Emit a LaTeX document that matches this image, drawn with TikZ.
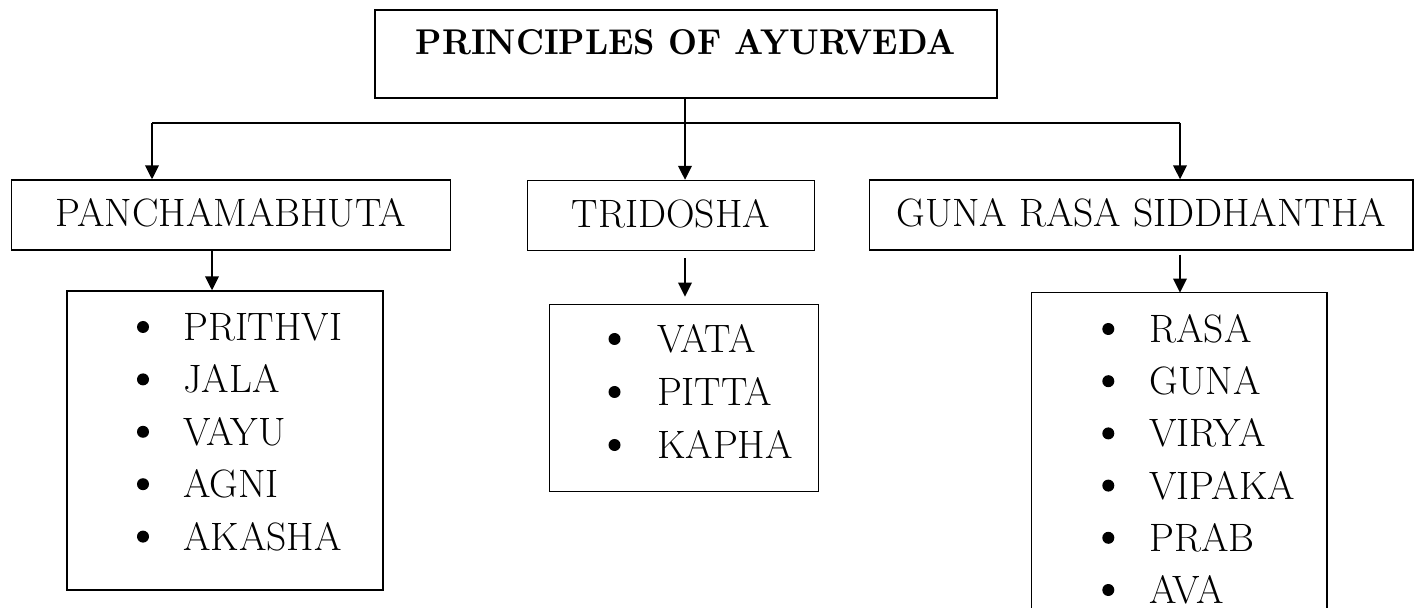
\documentclass[tikz,border=0pt]{standalone}
\usepackage{graphicx}
\usetikzlibrary{arrows.meta,calc}
\newcommand{\sqz}[1]{\scalebox{1.0}[1]{#1}}
\begin{document}
\begin{tikzpicture}[x=0.5pt,y=-0.5pt,
  box/.style={draw,line width=0.7pt,inner sep=0pt},
  head/.style={box,minimum height=35pt,text height=13.5pt,text depth=1.5pt,font=\fontsize{19.8}{24}\selectfont},
  conn/.style={line width=0.9pt},
  arr/.style={conn,-{Triangle[length=7pt,width=6.8pt]}},
  item/.style={anchor=west,inner sep=0pt,text height=13.5pt,text depth=0pt,font=\fontsize{19.8}{24}\selectfont},
  bul/.style={circle,fill,inner sep=0pt,minimum size=6pt}]
\fill[white] (0,0) rectangle (1422,608);
\useasboundingbox (0,0) rectangle (1422,608);
% title
\node[box,minimum width=311pt,minimum height=44pt,text height=12.5pt,text depth=11.5pt] (title) at (686,54)
  {\resizebox{270pt}{12.5pt}{\bfseries PRINCIPLES OF AYURVEDA}};
% headers
\node[head,minimum width=219.5pt] (pan) at (230.8,215) {\sqz{PANCHAMABHUTA}};
\node[head,minimum width=143.5pt] (tri) at (670.9,215.5) {\sqz{TRIDOSHA}};
\node[head,minimum width=271.9pt] (guna) at (1141.2,215) {\sqz{GUNA RASA SIDDHANTHA}};
% list boxes
\node[box,minimum width=157.85pt,minimum height=149.5pt] (l1) at (224.95,440.5) {};
\node[box,minimum width=134.4pt,minimum height=93.5pt] (l2) at (684.1,397.8) {};
\node[inner sep=0pt,minimum width=147.2pt,minimum height=157.5pt] (l3) at (1179.2,450.5) {};
\draw[line width=0.7pt] (l3.south west) -- (l3.north west) -- (l3.north east) -- (l3.south east);
% items
\foreach \t [count=\i] in {PRITHVI,JALA,VAYU,AGNI,AKASHA}{
  \node[bul] (ba\i) at (143,{327+52.4*(\i-1)}) {};
  \node[item] (ta\i) at (182.8,{327+52.4*(\i-1)}) {\sqz{\t}};
}
\foreach \t [count=\i] in {VATA,PITTA,KAPHA}{
  \node[bul] (bb\i) at (614.5,{339+53*(\i-1)}) {};
  \node[item] (tb\i) at (656.7,{339+53*(\i-1)}) {\sqz{\t}};
}
\foreach \t [count=\i] in {RASA,GUNA,VIRYA,VIPAKA,PRAB,AVA}{
  \node[bul] (bc\i) at (1108.3,{329+52.2*(\i-1)}) {};
  \node[item] (tc\i) at (1149,{329+52.2*(\i-1)}) {\sqz{\t}};
}
% connectors
\coordinate (hl) at (152,123);
\coordinate (hr) at (1180,123);
\coordinate (mx) at (685,123);
\coordinate (px) at (212,0);
\draw[conn] (hl) -- (hr);
\draw[arr] (hl) -- (hl |- pan.north);
\draw[arr] (hr) -- (hr |- guna.north);
\draw[arr] (title.south -| mx) -- (tri.north -| mx);
\draw[arr] (pan.south -| px) -- (l1.north -| px);
\draw[arr] ($(tri.south -| mx)+(0,7)$) -- ($(l2.north -| mx)+(0,-7)$);
\draw[arr] ($(guna.south -| hr)+(0,4)$) -- (l3.north -| hr);
\end{tikzpicture}
\end{document}
